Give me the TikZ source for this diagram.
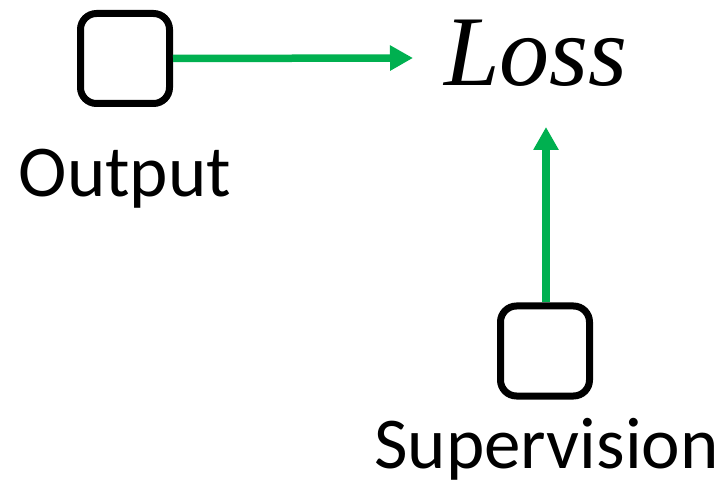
\documentclass[tikz,border=0pt]{standalone}
\usepackage{fontspec}
\newfontfamily\calibri{Carlito}
\newfontfamily\lossfont{Liberation Serif}
\usetikzlibrary{arrows.meta}
\definecolor{arrgreen}{HTML}{00B050}
\begin{document}
\begin{tikzpicture}[x=1pt,y=1pt,
  sqbox/.style={draw=black,line width=7pt,rounded corners=16pt,minimum width=89pt,minimum height=90pt,inner sep=0pt},
  lbl/.style={font=\calibri\fontsize{73}{77}\selectfont,inner sep=0pt,anchor=base},
  greenarrow/.style={draw=arrgreen,line width=7.5pt,-{Triangle[length=23pt,width=24pt]}}]
\useasboundingbox (0,0) rectangle (726,-489);
\node[sqbox] (out) at (125,-58.5) {};
\node[sqbox] (sup) at (545,-351) {};
\node[lbl] (outlbl) at (125,-197) {Output};
\node[lbl] (suplbl) at (546.5,-468) {Supervision};
\node[font=\lossfont\fontsize{100}{104}\selectfont\itshape,inner sep=0pt,anchor=base west] (loss) at (444,-86) {Loss};
\coordinate (tipa) at (413,-58);
\coordinate (tipb) at (546,-127);
\draw[greenarrow] (out.east) -- (tipa);
\draw[greenarrow] (sup.north -| tipb) -- (tipb);
\end{tikzpicture}
\end{document}
